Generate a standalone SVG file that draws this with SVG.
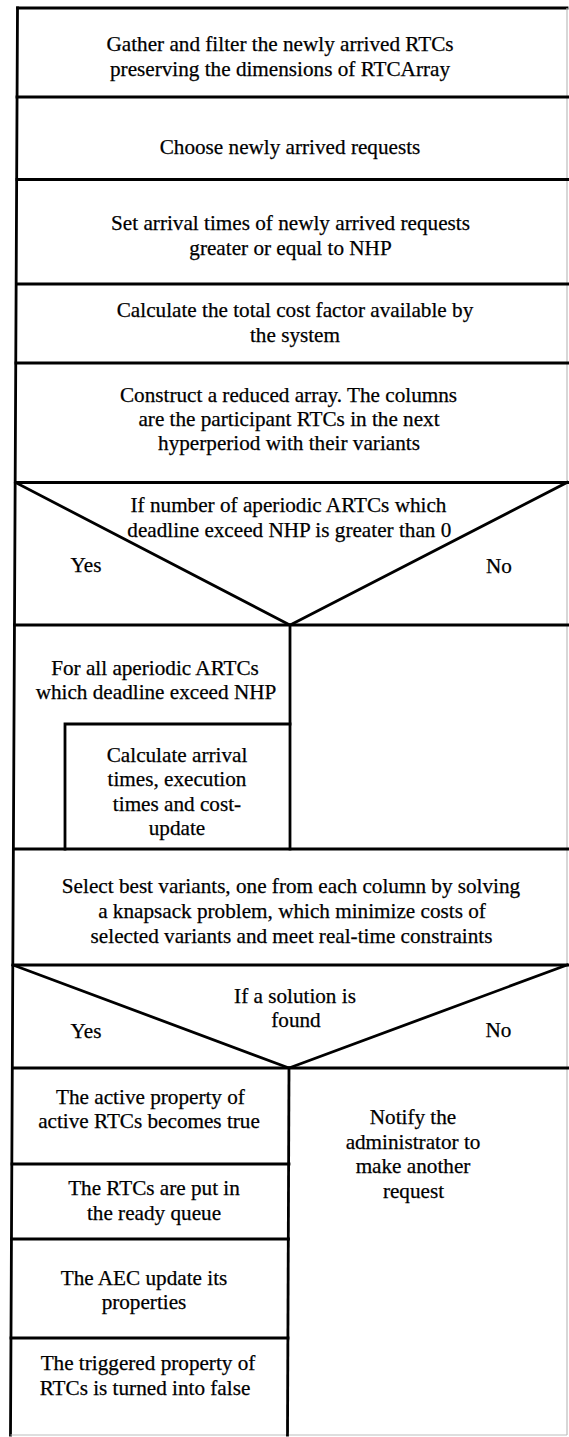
<svg xmlns="http://www.w3.org/2000/svg" width="569" height="1437" viewBox="0 0 569 1437">
  <style>
    .bg { fill: #ffffff; }
    .ln { stroke: #000000; stroke-width: 2.8; fill: none; stroke-linecap: square; }
    .thin { stroke: #bdbdbd; stroke-width: 1.2; fill: none; }
    text { font-size: 21.2px; fill: #000000; stroke: #000000; stroke-width: 0.25; text-anchor: middle; }
  </style>

  <rect class="bg" x="0" y="0" width="569" height="1437"/>

  <!-- outer frame (the left edge leans slightly) -->
  <g id="frame">
    <line class="ln" x1="17.5" y1="8" x2="567" y2="8"/>
    <line class="ln" x1="17.5" y1="8" x2="10.5" y2="1435"/>
    <line class="thin" x1="567" y1="8" x2="567" y2="1435"/>
    <line class="thin" x1="10.5" y1="1435" x2="567" y2="1435"/>
  </g>

  <g font-family="Liberation Serif, Tinos, DejaVu Serif, serif">

  <g id="gather">
    <line class="ln" x1="17" y1="97" x2="569" y2="97"/>
    <text x="280" y="51">Gather and filter the newly arrived RTCs</text>
    <text x="280" y="76">preserving the dimensions of RTCArray</text>
  </g>

  <g id="choose">
    <line class="ln" x1="17" y1="179.5" x2="569" y2="179.5"/>
    <text x="290" y="154">Choose newly arrived requests</text>
  </g>

  <g id="set-arrival">
    <line class="ln" x1="16.5" y1="284" x2="569" y2="284"/>
    <text x="290.5" y="230">Set arrival times of newly arrived requests</text>
    <text x="290.5" y="255">greater or equal to NHP</text>
  </g>

  <g id="total-cost">
    <line class="ln" x1="16" y1="363" x2="569" y2="363"/>
    <text x="295" y="317">Calculate the total cost factor available by</text>
    <text x="295" y="342">the system</text>
  </g>

  <g id="reduced-array">
    <line class="ln" x1="15.5" y1="482.5" x2="569" y2="482.5"/>
    <text x="288.5" y="402">Construct a reduced array. The columns</text>
    <text x="289" y="426">are the participant RTCs in the next</text>
    <text x="289" y="450">hyperperiod with their variants</text>
  </g>

  <g id="decision-aperiodic">
    <line class="ln" x1="15.5" y1="482.5" x2="290" y2="625"/>
    <line class="ln" x1="567" y1="482.5" x2="290" y2="625"/>
    <line class="ln" x1="14.5" y1="625" x2="569" y2="625"/>
    <text x="288.5" y="512">If number of aperiodic ARTCs which</text>
    <text x="289.3" y="537">deadline exceed NHP is greater than 0</text>
    <text x="86" y="572">Yes</text>
    <text x="499" y="573">No</text>
  </g>

  <g id="loop-aperiodic">
    <line class="ln" x1="290" y1="625" x2="290" y2="849"/>
    <text x="155" y="675">For all aperiodic ARTCs</text>
    <text x="156" y="699">which deadline exceed NHP</text>
  </g>

  <g id="calc-arrival">
    <polyline class="ln" points="65,849 65,724 290,724"/>
    <text x="177" y="762">Calculate arrival</text>
    <text x="177" y="786">times, execution</text>
    <text x="177" y="811">times and cost-</text>
    <text x="177" y="835">update</text>
  </g>

  <g id="select-variants">
    <line class="ln" x1="13.5" y1="849" x2="569" y2="849"/>
    <text x="291" y="893">Select best variants, one from each column by solving</text>
    <text x="292" y="918">a knapsack problem, which minimize costs of</text>
    <text x="291.5" y="943">selected variants and meet real-time constraints</text>
  </g>

  <g id="decision-solution">
    <line class="ln" x1="13" y1="965" x2="569" y2="965"/>
    <line class="ln" x1="13" y1="965" x2="289" y2="1068"/>
    <line class="ln" x1="567" y1="965" x2="289" y2="1068"/>
    <line class="ln" x1="12.5" y1="1068" x2="569" y2="1068"/>
    <text x="295" y="1003">If a solution is</text>
    <text x="296" y="1027">found</text>
    <text x="86" y="1038">Yes</text>
    <text x="498.5" y="1037">No</text>
  </g>

  <g id="yes-branch">
    <line class="ln" x1="289" y1="1068" x2="287.5" y2="1435"/>
  </g>

  <g id="active-property">
    <line class="ln" x1="12" y1="1164" x2="289" y2="1164"/>
    <text x="150.5" y="1104">The active property of</text>
    <text x="149" y="1128">active RTCs becomes true</text>
  </g>

  <g id="ready-queue">
    <line class="ln" x1="11.5" y1="1239" x2="288.5" y2="1239"/>
    <text x="154" y="1195">The RTCs are put in</text>
    <text x="154" y="1220">the ready queue</text>
  </g>

  <g id="aec-update">
    <line class="ln" x1="11" y1="1338" x2="288" y2="1338"/>
    <text x="144" y="1285">The AEC update its</text>
    <text x="144" y="1309">properties</text>
  </g>

  <g id="triggered-property">
    <text x="148" y="1370">The triggered property of</text>
    <text x="145" y="1395">RTCs is turned into false</text>
  </g>

  <g id="notify-admin">
    <text x="413" y="1124">Notify the</text>
    <text x="413" y="1148.5">administrator to</text>
    <text x="413" y="1173">make another</text>
    <text x="413.5" y="1197.5">request</text>
  </g>

  </g>

  <!-- no connector lines: the chart is built from nested blocks -->
  <g id="connectors"/>
</svg>
